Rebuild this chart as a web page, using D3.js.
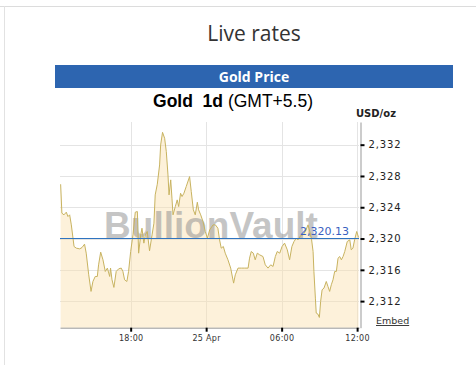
<!DOCTYPE html>
<html>
<head>
<meta charset="utf-8">
<script src="https://cdn.jsdelivr.net/npm/d3@7"></script>
<style>
  body { margin: 0; background: #fff; }
  svg { display: block; }
</style>
</head>
<body>
<div id="chart"></div>
<script>
// gold price, 1 day (GMT+5.5)
var times = [
  "24 12:26","24 12:32","24 12:42","24 12:53","24 13:01","24 13:09","24 13:17","24 13:30","24 13:41","24 13:57",
  "24 14:08","24 14:20","24 14:28","24 14:40","24 14:51","24 15:00","24 15:11","24 15:21","24 15:27","24 15:37",
  "24 15:48","24 15:59","24 16:09","24 16:20","24 16:24","24 16:31","24 16:40","24 16:51","24 17:03","24 17:15",
  "24 17:23","24 17:31","24 17:42","24 17:50","24 18:00","24 18:11","24 18:22","24 18:32","24 18:38","24 18:48",
  "24 18:54","24 19:03","24 19:10","24 19:19","24 19:30","24 19:42","24 19:51","24 19:57","24 20:07","24 20:18",
  "24 20:23","24 20:32","24 20:42","24 20:50","24 20:58","24 21:03","24 21:11","24 21:17","24 21:22","24 21:33",
  "24 21:42","24 21:49","24 21:58","24 22:05","24 22:14","24 22:25","24 22:41","24 22:49","24 22:59","24 23:08",
  "24 23:18","24 23:24","24 23:34","24 23:45","24 23:56","25 00:06","25 00:17","25 00:33","25 00:44","25 00:56",
  "25 01:04","25 01:12","25 01:22","25 01:31","25 01:44","25 01:57","25 02:11","25 02:19","25 02:32","25 02:48",
  "25 03:04","25 03:20","25 03:27","25 03:35","25 03:45","25 03:54","25 04:04","25 04:15","25 04:31","25 04:42",
  "25 04:55","25 05:08","25 05:19","25 05:30","25 05:39","25 05:51","25 06:02","25 06:14","25 06:27","25 06:38",
  "25 06:49","25 06:59","25 07:10","25 07:18","25 07:31","25 07:42","25 07:53","25 08:06","25 08:14","25 08:22",
  "25 08:30","25 08:34","25 08:41","25 08:45","25 08:53","25 09:00","25 09:06","25 09:13","25 09:22","25 09:33",
  "25 09:41","25 09:49","25 09:57","25 10:05","25 10:13","25 10:21","25 10:29","25 10:37","25 10:45","25 10:53",
  "25 11:01","25 11:13","25 11:25","25 11:32","25 11:40","25 11:48","25 11:58","25 12:07"
];
var prices = [
  2326.94,2323.24,2323.03,2323.37,2322.81,2323.03,2321.75,2318.98,2318.77,2318.68,
  2318.85,2319.28,2318.13,2315.36,2313.24,2314.51,2315.15,2315.15,2316.64,2318.26,
  2317.28,2315.79,2316.22,2315.15,2316.22,2314.73,2313.75,2315.79,2316.13,2316.22,
  2315.79,2314.73,2314.51,2315.79,2318.34,2320.47,2323.37,2323.45,2318.13,2320.47,
  2321.32,2319.41,2320.47,2320.90,2318.43,2320.47,2321.96,2325.58,2326.94,2329.41,
  2331.97,2333.58,2332.82,2331.11,2328.14,2325.58,2327.50,2325.16,2323.03,2324.09,
  2324.94,2324.09,2325.79,2325.37,2325.79,2326.65,2327.92,2326.01,2323.67,2323.03,
  2324.64,2323.67,2323.03,2322.17,2320.90,2320.05,2321.11,2321.75,2321.75,2321.32,
  2319.83,2318.77,2318.98,2318.13,2317.28,2316.22,2314.30,2315.36,2316.22,2316.22,
  2316.22,2316.22,2317.49,2318.34,2318.13,2317.28,2318.13,2317.92,2317.70,2316.64,
  2316.22,2316.64,2316.43,2317.70,2318.34,2318.13,2318.98,2319.41,2318.56,2317.28,
  2318.98,2319.62,2320.05,2319.83,2320.39,2320.47,2320.90,2321.75,2320.90,2320.05,
  2318.34,2315.79,2312.38,2310.47,2310.34,2309.91,2311.96,2313.45,2313.66,2314.51,
  2313.87,2313.24,2314.09,2314.73,2315.79,2315.79,2317.49,2317.70,2317.28,2317.70,
  2318.34,2319.62,2319.83,2318.56,2318.77,2319.83,2320.90,2320.13
];
var lastPrice = 2320.13;
var yTicks = [2312, 2316, 2320, 2324, 2328, 2332];
var xTickTimes = ["24 18:00", "25 00:00", "25 06:00", "25 12:00"];
var xTickLabels = ["18:00", "25 Apr", "06:00", "12:00"];

var svgWidth = 476, svgHeight = 365;
var plot = { left: 60, right: 359, top: 122, bottom: 327.7 };

var parseTime = d3.timeParse("%Y-%m-%d %H:%M");
function toDate(t) { return parseTime("2024-04-" + t); }

var data = times.map(function(t, i) { return { date: toDate(t), price: prices[i] }; });

var svg = d3.select("#chart").append("svg")
  .attr("width", svgWidth).attr("height", svgHeight);

// page frame
svg.append("line").attr("x1", 0).attr("x2", svgWidth).attr("y1", 6.5).attr("y2", 6.5)
  .attr("stroke", "#dcdcdc");
svg.append("line").attr("x1", 4.5).attr("x2", 4.5).attr("y1", 6).attr("y2", svgHeight)
  .attr("stroke", "#e2e2e2");

svg.append("text").attr("x", 254).attr("y", 41).attr("text-anchor", "middle")
  .attr("font-family", "'Open Sans', sans-serif").attr("font-size", 21).attr("fill", "#333")
  .text("Live rates");

// blue header bar
svg.append("rect").attr("x", 55).attr("y", 65).attr("width", 398).attr("height", 23)
  .attr("fill", "#2d65b0");
svg.append("text").attr("x", 254).attr("y", 82).attr("text-anchor", "middle")
  .attr("font-family", "'Open Sans', sans-serif").attr("font-weight", "bold")
  .attr("font-size", 14).attr("fill", "#fff").text("Gold Price");

// chart title
var title = svg.append("text").attr("x", 233).attr("y", 106.5).attr("text-anchor", "middle")
  .attr("font-family", "'Liberation Sans', Arial, sans-serif").attr("font-size", 17.5).attr("fill", "#000")
  .style("white-space", "pre");
title.append("tspan").attr("font-weight", "bold").text("Gold  1d");
title.append("tspan").text(" (GMT+5.5)");

// scales
var x = d3.scaleTime()
  .domain([toDate("24 12:23"), toDate("25 12:09")])
  .range([plot.left, plot.right]);
var y = d3.scaleLinear()
  .domain([2308.6, 2334.9])
  .range([plot.bottom, plot.top]);

var xTicks = xTickTimes.map(toDate);

// grid
var grid = svg.append("g").attr("stroke", "#e4e4e4").attr("stroke-width", 1);
grid.selectAll("line.h").data(yTicks).enter().append("line")
  .attr("x1", plot.left).attr("x2", plot.right)
  .attr("y1", d => Math.round(y(d)) + 0.5).attr("y2", d => Math.round(y(d)) + 0.5);
grid.selectAll("line.v").data(xTicks).enter().append("line")
  .attr("x1", d => Math.round(x(d)) + 0.5).attr("x2", d => Math.round(x(d)) + 0.5)
  .attr("y1", plot.top).attr("y2", plot.bottom);

// area + line
var area = d3.area().x(d => x(d.date)).y0(plot.bottom).y1(d => y(d.price));
var line = d3.line().x(d => x(d.date)).y(d => y(d.price));

svg.append("path").datum(data).attr("d", area)
  .attr("fill", "#fbe0ad").attr("fill-opacity", 0.45);

// watermark
svg.append("text").attr("x", 211).attr("y", 238).attr("text-anchor", "middle")
  .attr("font-family", "'Liberation Sans', Arial, sans-serif").attr("font-size", 37)
  .attr("font-weight", "bold").attr("fill", "#8c8c8c").attr("fill-opacity", 0.5)
  .text("BullionVault");

svg.append("path").datum(data).attr("d", line)
  .attr("fill", "none").attr("stroke", "#c8b360").attr("stroke-width", 1);

// current price line
var lastY = Math.round(y(lastPrice)) + 0.5;
svg.append("line").attr("x1", plot.left).attr("x2", plot.right)
  .attr("y1", lastY).attr("y2", lastY)
  .attr("stroke", "#2f74c0").attr("stroke-width", 1);
svg.append("text").attr("x", 349).attr("y", lastY - 3.5).attr("text-anchor", "end")
  .attr("font-family", "'DejaVu Sans', sans-serif").attr("font-size", 11)
  .attr("fill", "#3a5fc0").text(d3.format(",.2f")(lastPrice));

// axes
var rightAxis = d3.axisRight(y).tickValues(yTicks).tickFormat(d3.format(","))
  .tickSize(4).tickSizeOuter(0).tickPadding(4);
var yAxisG = svg.append("g").attr("transform", "translate(" + (plot.right + 1.5) + ",0)").call(rightAxis);
yAxisG.select(".domain").attr("stroke", "#999");
yAxisG.selectAll(".tick line").attr("stroke", "#000").attr("stroke-width", 2);
yAxisG.selectAll(".tick text").attr("font-family", "'DejaVu Sans', sans-serif")
  .attr("font-size", 10).attr("letter-spacing", 0.9).attr("fill", "#222");

var bottomAxis = d3.axisBottom(x).tickValues(xTicks).tickFormat((d, i) => xTickLabels[i])
  .tickSize(4).tickSizeOuter(0).tickPadding(4);
var xAxisG = svg.append("g").attr("transform", "translate(0," + plot.bottom + ")").call(bottomAxis);
xAxisG.select(".domain").attr("stroke", "#999");
xAxisG.selectAll(".tick line").attr("stroke", "#000").attr("stroke-width", 2);
xAxisG.selectAll(".tick text").attr("font-family", "'DejaVu Sans', sans-serif")
  .attr("font-size", 8).attr("letter-spacing", 0.3).attr("fill", "#333");

svg.append("text").attr("x", 356).attr("y", 117)
  .attr("font-family", "'DejaVu Sans', sans-serif").attr("font-weight", "bold")
  .attr("font-size", 10).attr("fill", "#222").text("USD/oz");

svg.append("text").attr("x", 376).attr("y", 324)
  .attr("font-family", "'DejaVu Sans', sans-serif").attr("font-size", 9.5)
  .attr("fill", "#333").attr("text-decoration", "underline").text("Embed");
</script>
</body>
</html>
